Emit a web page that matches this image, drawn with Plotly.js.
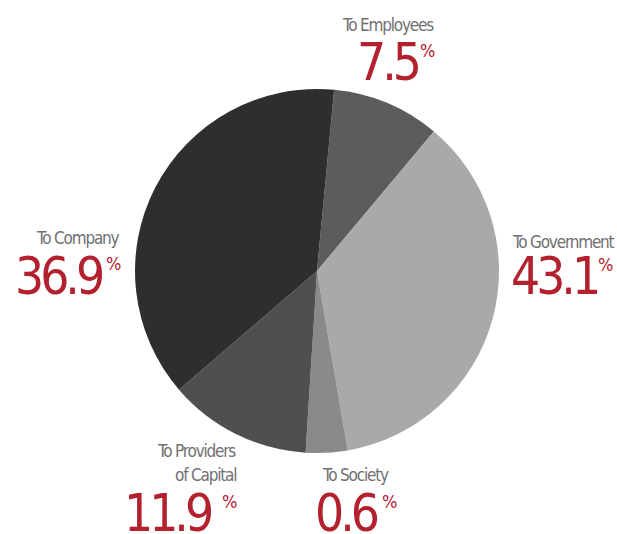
<!DOCTYPE html>
<html>
<head>
<meta charset="utf-8">
<script src="https://cdn.plot.ly/plotly-3.0.1.min.js"></script>
<style>html,body{margin:0;padding:0;background:#fff;}#chart{width:617px;height:534px;}</style>
</head>
<body>
<div id="chart"></div>
<script>
// Categories in drawing order (clockwise from just right of 12 o'clock)
const categories = ["To Employees", "To Government", "To Society", "To Providers\nof Capital", "To Company"];
// Slice shares as drawn in the picture (angles)
const sliceShares = [9.6, 36.2, 3.7, 12.7, 37.8];
// Percentages printed next to each slice
const labelValues = ["7.5", "43.1", "0.6", "11.9", "36.9"];
const sliceColors = ["#5c5c5c", "#a9a9a9", "#8a8a8a", "#4f4f4f", "#2e2e2e"];

const W = 617, H = 534;
const cx = 317, cy = 271, R = 182;
const px = x => x / W;
const py = y => 1 - y / H;

const trace = {
  type: "pie",
  values: sliceShares,
  labels: categories,
  sort: false,
  direction: "clockwise",
  rotation: 5.4,
  textinfo: "none",
  hoverinfo: "none",
  showlegend: false,
  marker: {colors: sliceColors, line: {width: 0}},
  domain: {x: [px(cx - R), px(cx + R)], y: [py(cy + R), py(cy - R)]}
};

const FONT = "Liberation Sans Narrow, DejaVu Sans Condensed, Arial Narrow, sans-serif";
const GRAY = "#707071";
const RED = "#b3202e";

// label layout: [label lines, labelRight, labelCenterY, numberRight, numberCenterY, pctLeft, pctCenterY]
const placements = [
  [["To Employees"], 435, [25], 420, 62.5, 419, 50],
  [["To Government"], 616, [241.5], 598, 276.5, 597, 264.5],
  [["To Society"], 390, [475], 379, 513, 381, 501],
  [["To Providers", "of Capital"], 237, [451, 475], 212, 513, 221, 501],
  [["To Company"], 121, [238.5], 103, 276, 105, 263.5]
];

const tight = (t, ls) => '<span style="letter-spacing:' + ls + 'px">' + t + '</span>';

const annotations = [];
placements.forEach((p, i) => {
  const [lines, lr, lys, nr, ny, pl, pyc] = p;
  lines.forEach((t, j) => {
    annotations.push({xref: "paper", yref: "paper", x: px(lr), y: py(lys[j]), xanchor: "right", yanchor: "middle",
      text: tight(t, -1.2), showarrow: false, borderpad: 0, font: {family: FONT, size: 17, color: GRAY}});
  });
  annotations.push({xref: "paper", yref: "paper", x: px(nr), y: py(ny), xanchor: "right", yanchor: "middle",
    text: tight(labelValues[i], -4), showarrow: false, borderpad: 0, font: {family: FONT, size: 51, color: RED}});
  annotations.push({xref: "paper", yref: "paper", x: px(pl), y: py(pyc), xanchor: "left", yanchor: "middle",
    text: tight("%", -1), showarrow: false, borderpad: 0, font: {family: FONT, size: 18, color: RED}});
});

const layout = {
  width: W, height: H,
  margin: {l: 0, r: 0, t: 0, b: 0},
  paper_bgcolor: "#ffffff",
  plot_bgcolor: "#ffffff",
  annotations: annotations
};

Plotly.newPlot("chart", [trace], layout, {displayModeBar: false, staticPlot: true});
</script>
</body>
</html>
